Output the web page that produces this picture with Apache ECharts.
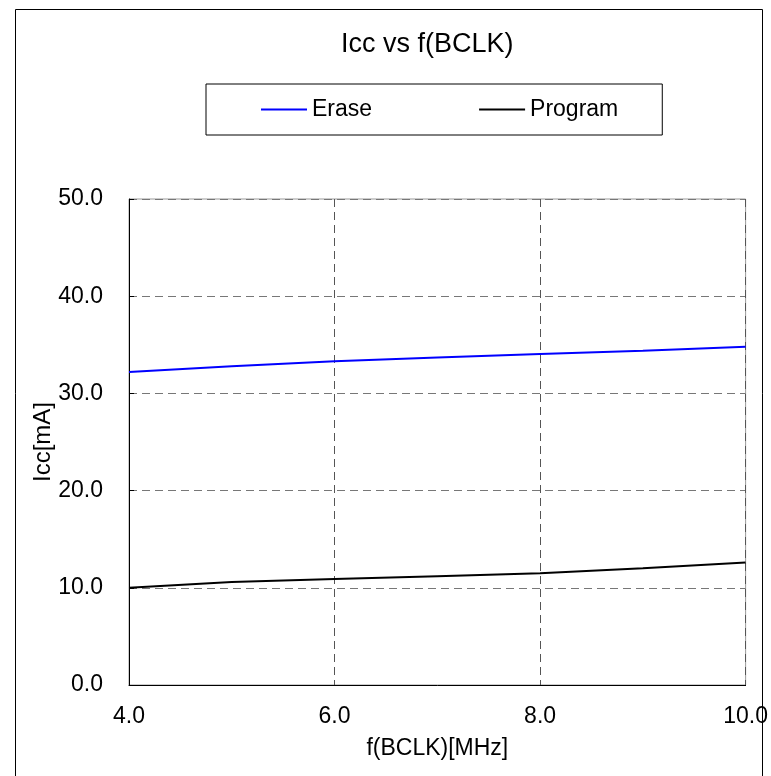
<!DOCTYPE html>
<html>
<head>
<meta charset="utf-8">
<script src="https://cdn.jsdelivr.net/npm/echarts@6/dist/echarts.min.js"></script>
<style>
html,body{margin:0;padding:0;background:#fff;}
#chart{width:771px;height:776px;}
</style>
</head>
<body>
<div id="chart"></div>
<script>
const titleText = 'Icc vs f(BCLK)';
const xName = 'f(BCLK)[MHz]';
const yName = 'Icc[mA]';
const freq = [4, 5, 6, 7, 8, 9, 10];
const eraseVals = [32.2, 32.8, 33.3, 33.7, 34.05, 34.4, 34.8];
const programVals = [10.0, 10.6, 10.9, 11.2, 11.5, 12.0, 12.6];
const seriesNames = ['Erase', 'Program'];

const font = 'Liberation Sans, Arial, sans-serif';
const chart = echarts.init(document.getElementById('chart'), null, {renderer: 'canvas'});
chart.setOption({
  animation: false,
  backgroundColor: '#fff',
  graphic: [{
    type: 'rect', shape: {x: 15.5, y: 9.5, width: 747, height: 800},
    style: {fill: 'none', stroke: '#000', lineWidth: 1}, silent: true, z: -1
  }],
  title: {
    text: titleText, left: 341, top: 31, padding: 0,
    textStyle: {fontFamily: font, fontSize: 27, fontWeight: 'normal', color: '#000'}
  },
  legend: {
    left: 206, top: 84,
    padding: [14, 44, 14, 55],
    borderColor: '#000', borderWidth: 1,
    itemGap: 107, itemWidth: 46, itemHeight: 2,
    icon: 'rect',
    textStyle: {fontFamily: font, fontSize: 23, color: '#000'},
    data: seriesNames
  },
  grid: {
    left: 129, right: 24, top: 199, bottom: 91,
    show: true, borderColor: '#999', borderWidth: 1, containLabel: false
  },
  xAxis: {
    type: 'value', min: 4, max: 10, interval: 2,
    name: xName, nameLocation: 'middle', nameGap: 52,
    nameTextStyle: {fontFamily: font, fontSize: 23, color: '#000'},
    axisLine: {show: true, lineStyle: {color: '#000', width: 1}},
    axisTick: {show: false},
    axisLabel: {fontFamily: font, fontSize: 23, color: '#000', margin: 20,
      formatter: v => v.toFixed(1)},
    splitLine: {show: true, lineStyle: {color: '#555', type: [8, 5], width: 1}}
  },
  yAxis: {
    type: 'value', min: 0, max: 50, interval: 10,
    name: yName, nameLocation: 'middle', nameGap: 74, nameMoveOverlap: false,
    nameTextStyle: {fontFamily: font, fontSize: 24, color: '#000'},
    axisLine: {show: true, lineStyle: {color: '#000', width: 1}},
    axisTick: {show: true, inside: true, length: 5, lineStyle: {color: '#000'}},
    axisLabel: {fontFamily: font, fontSize: 23, color: '#000', margin: 26,
      formatter: v => v.toFixed(1)},
    splitLine: {show: true, lineStyle: {color: '#777', type: [8, 5], width: 1}}
  },
  series: [
    {name: seriesNames[0], type: 'line', data: freq.map((f, i) => [f, eraseVals[i]]),
      showSymbol: false, symbol: 'none', lineStyle: {color: '#0000ff', width: 2}, itemStyle: {color: '#0000ff'}},
    {name: seriesNames[1], type: 'line', data: freq.map((f, i) => [f, programVals[i]]),
      showSymbol: false, symbol: 'none', lineStyle: {color: '#000', width: 2}, itemStyle: {color: '#000'}}
  ]
});
</script>
</body>
</html>
